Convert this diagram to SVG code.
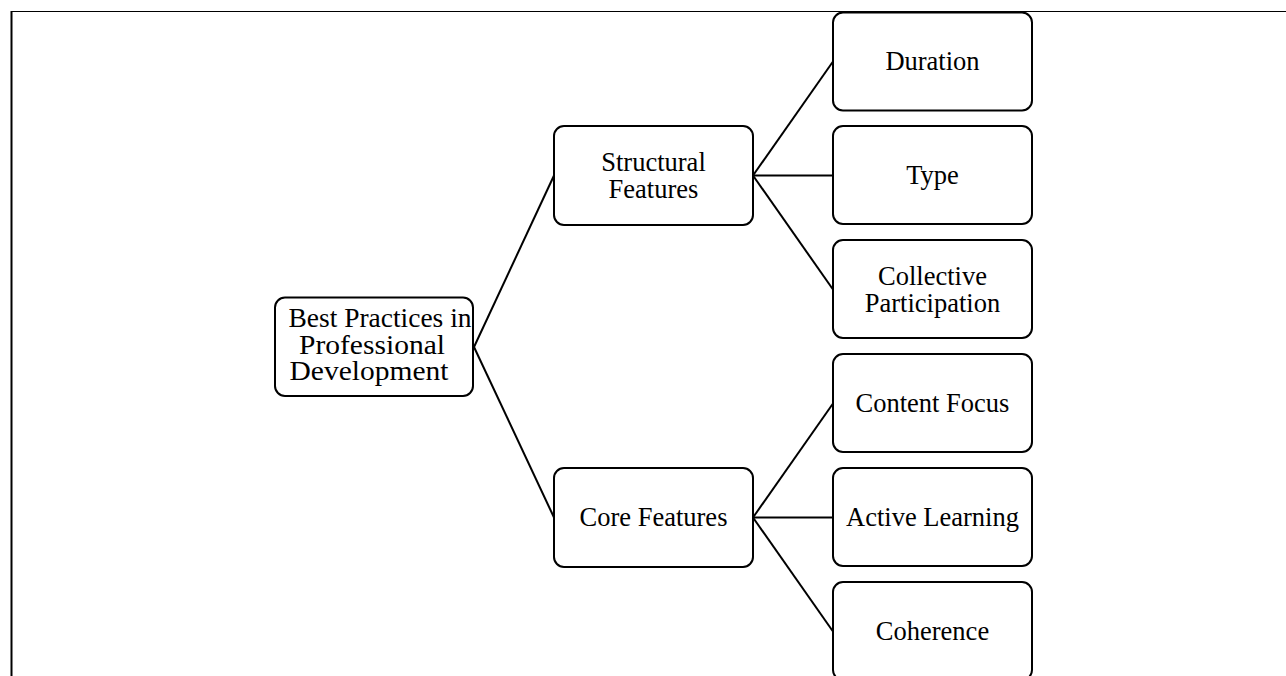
<svg xmlns="http://www.w3.org/2000/svg" width="1286" height="676" viewBox="0 0 1286 676">
<style>
.box{fill:#fff;stroke:#000;stroke-width:2}
.t{font-family:"Liberation Serif","Times New Roman",serif;font-size:26.5px;fill:#000;text-anchor:middle}
.c{stroke:#000;stroke-width:2;fill:none}
</style>
<rect width="1286" height="676" fill="#fff"/>
<g id="frame">
<line x1="11.5" y1="11" x2="11.5" y2="676" stroke="#000" stroke-width="2"/>
<line x1="11" y1="11.5" x2="1286" y2="11.5" stroke="#000" stroke-width="1.2"/>
</g>
<g id="connectors">
<line class="c" x1="474" y1="347" x2="554" y2="175.5"/>
<line class="c" x1="474" y1="347" x2="554" y2="517.5"/>
<line class="c" x1="753" y1="175.5" x2="833" y2="61.5"/>
<line class="c" x1="753" y1="175.5" x2="833" y2="175.5"/>
<line class="c" x1="753" y1="175.5" x2="833" y2="289.5"/>
<line class="c" x1="753" y1="517.5" x2="833" y2="403.5"/>
<line class="c" x1="753" y1="517.5" x2="833" y2="517.5"/>
<line class="c" x1="753" y1="517.5" x2="833" y2="631.5"/>
</g>
<g id="root">
<rect class="box" x="275" y="297.5" width="198" height="98.5" rx="10"/>
<text class="t" x="380" y="327" textLength="183" lengthAdjust="spacingAndGlyphs">Best Practices in</text>
<text class="t" x="372" y="353.5" textLength="146" lengthAdjust="spacingAndGlyphs">Professional</text>
<text class="t" x="369" y="379.5" textLength="159" lengthAdjust="spacingAndGlyphs">Development</text>
</g>
<g id="structural">
<rect class="box" x="554" y="126" width="199" height="99" rx="10"/>
<text class="t" x="653.5" y="170.5">Structural</text>
<text class="t" x="653.5" y="197.5">Features</text>
</g>
<g id="core">
<rect class="box" x="554" y="468" width="199" height="99" rx="10"/>
<text class="t" x="653.5" y="526">Core Features</text>
</g>
<g id="duration">
<rect class="box" x="833" y="12.5" width="199" height="98" rx="10"/>
<text class="t" x="932.5" y="69.5">Duration</text>
</g>
<g id="type">
<rect class="box" x="833" y="126" width="199" height="98" rx="10"/>
<text class="t" x="932.5" y="183.5">Type</text>
</g>
<g id="collective">
<rect class="box" x="833" y="240" width="199" height="98" rx="10"/>
<text class="t" x="932.5" y="284.5">Collective</text>
<text class="t" x="932.5" y="311.5">Participation</text>
</g>
<g id="content">
<rect class="box" x="833" y="354" width="199" height="98" rx="10"/>
<text class="t" x="932.5" y="411.5">Content Focus</text>
</g>
<g id="active">
<rect class="box" x="833" y="468" width="199" height="98" rx="10"/>
<text class="t" x="932.5" y="525.5">Active Learning</text>
</g>
<g id="coherence">
<rect class="box" x="833" y="582" width="199" height="98" rx="10"/>
<text class="t" x="932.5" y="639.5">Coherence</text>
</g>
</svg>
